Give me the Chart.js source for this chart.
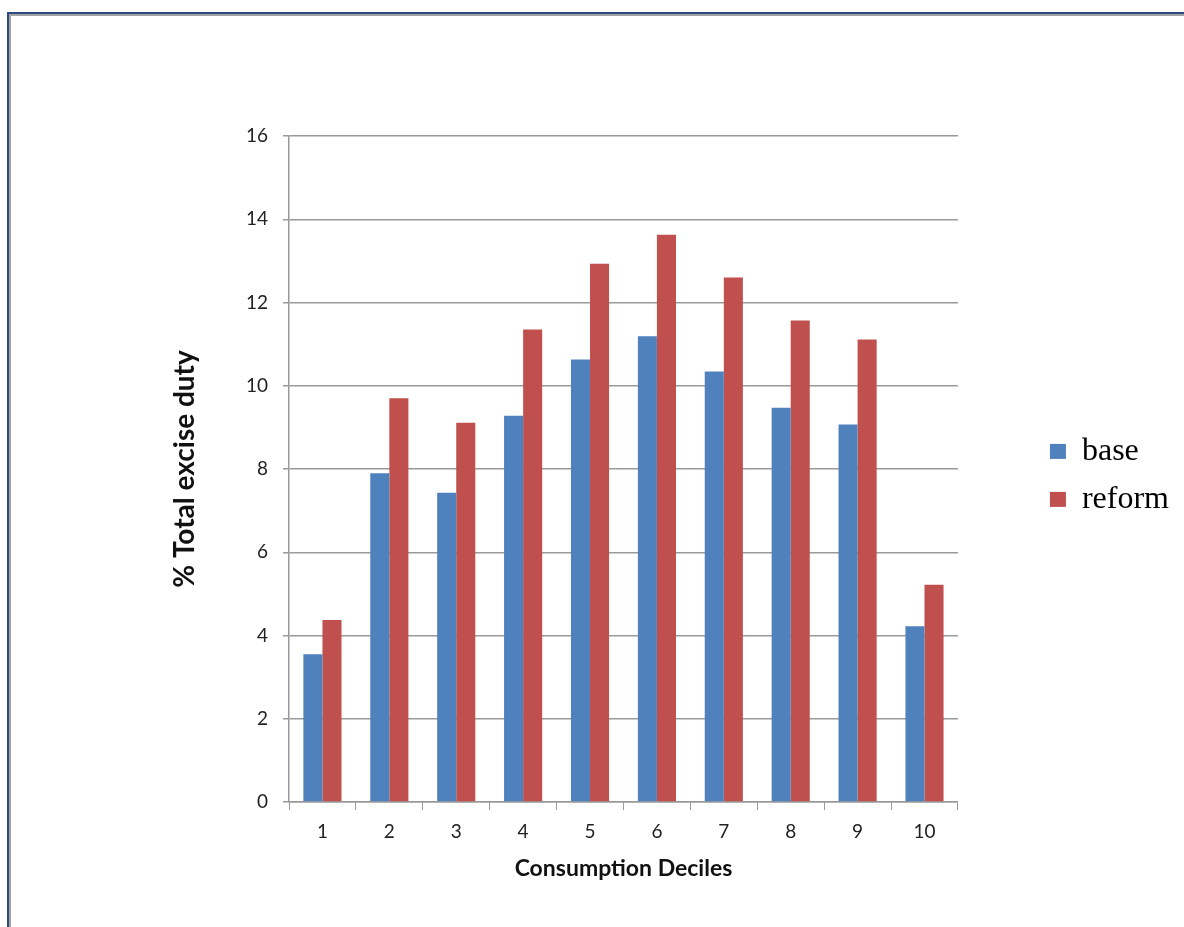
<!DOCTYPE html>
<html>
<head>
<meta charset="utf-8">
<script src="https://cdn.jsdelivr.net/npm/chart.js@4.4.0/dist/chart.umd.min.js"></script>
<style>
  html, body { margin: 0; padding: 0; background: #fff; overflow: hidden; }
  .frame {
    position: absolute; left: 7px; top: 12px; width: 1200px; height: 950px;
    border-top: 2px solid #2b4a80; border-left: 2px solid #2b4a80;
    box-shadow: inset 2px 2px 0 #a3a3a3;
  }
  .wrap { position: absolute; left: 0; top: 0; width: 1184px; height: 927px; }
</style>
</head>
<body>
<div class="frame"></div>
<div class="wrap"><canvas class="excise-chart" width="1184" height="927"></canvas></div>
<script>
const deciles = ["1", "2", "3", "4", "5", "6", "7", "8", "9", "10"];
const baseValues = [3.55, 7.90, 7.43, 9.28, 10.63, 11.19, 10.34, 9.47, 9.07, 4.22];
const reformValues = [4.37, 9.70, 9.11, 11.35, 12.93, 13.63, 12.60, 11.57, 11.11, 5.22];
const yTicks = [0, 2, 4, 6, 8, 10, 12, 14, 16];

const gridColor = "#9a9a9a";

const exciseChart = new Chart(document.querySelector(".excise-chart"), {
  type: "bar",
  data: {
    labels: deciles,
    datasets: [
      {
        label: "base",
        data: baseValues,
        backgroundColor: "#4F81BD",
        borderWidth: 0,
        categoryPercentage: 0.57,
        barPercentage: 1.0,
      },
      {
        label: "reform",
        data: reformValues,
        backgroundColor: "#C0504D",
        borderWidth: 0,
        categoryPercentage: 0.57,
        barPercentage: 1.0,
      },
    ],
  },
  options: {
    responsive: false,
    animation: false,
    layout: {
      padding: { left: 164, top: 136, bottom: 40, right: 5 },
    },
    plugins: {
      tooltip: { enabled: false },
      legend: {
        position: "right",
        fullSize: false,
        title: { display: true, text: " ", padding: 1, font: { size: 9 } },
        labels: {
          boxWidth: 16,
          boxHeight: 15,
          padding: 16,
          color: "#000",
          font: { family: "'Liberation Serif', 'Times New Roman', serif", size: 32 },
        },
      },
    },
    scales: {
      x: {
        grid: {
          offset: true,
          drawOnChartArea: false,
          drawTicks: true,
          tickLength: 8,
          color: gridColor,
        },
        border: { display: true, color: gridColor, width: 1.5 },
        ticks: {
          color: "#222",
          padding: 10,
          font: { family: "Lato, 'Open Sans', sans-serif", size: 19 },
        },
        title: {
          display: true,
          text: "Consumption Deciles",
          color: "#111",
          padding: { top: 4, bottom: 5 },
          font: { family: "Lato, 'Open Sans', sans-serif", size: 23, weight: "bold" },
        },
        afterFit: (s) => { s.height = 85; },
      },
      y: {
        min: 0,
        max: 16,
        afterBuildTicks: (s) => { s.ticks = yTicks.map((v) => ({ value: v })); },
        grid: {
          color: gridColor,
          lineWidth: 1.5,
          tickLength: 6,
        },
        border: { display: true, color: gridColor, width: 1.5 },
        ticks: {
          color: "#222",
          padding: 15,
          font: { family: "Lato, 'Open Sans', sans-serif", size: 19 },
        },
        title: {
          display: true,
          text: "% Total excise duty",
          color: "#111",
          padding: { top: 4, bottom: 4 },
          font: { family: "Lato, 'Open Sans', sans-serif", size: 28, weight: "bold" },
        },
        afterFit: (s) => { s.width = 125; },
      },
      pad: {
        type: "linear",
        position: "right",
        display: true,
        grid: { display: false },
        ticks: { display: false },
        border: { display: false },
        afterFit: (s) => { s.width = 76; },
      },
    },
  },
});
</script>
</body>
</html>
